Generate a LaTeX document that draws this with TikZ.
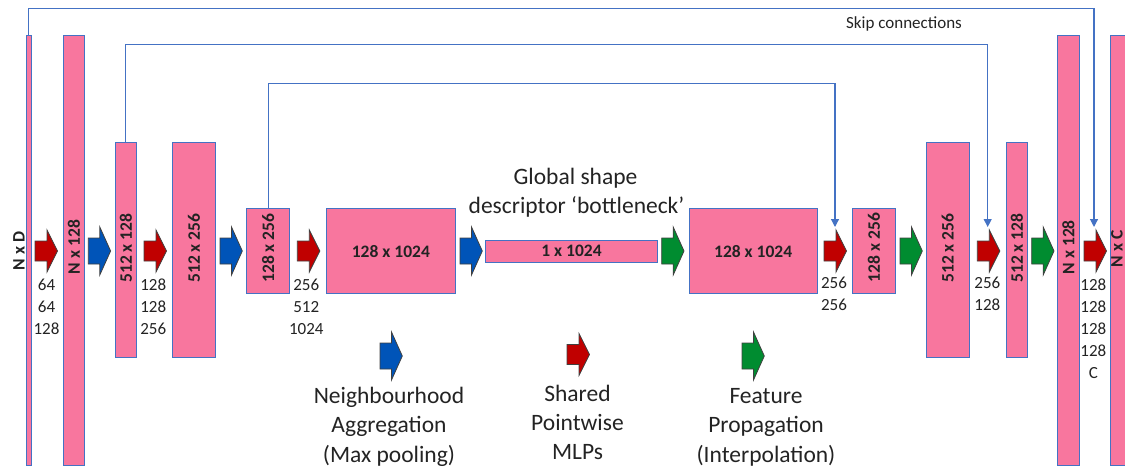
\documentclass[tikz,border=0pt]{standalone}
\usepackage{fontspec}
\setmainfont{Carlito}
\usetikzlibrary{arrows.meta}
\definecolor{pinkbar}{RGB}{248,118,158}
\definecolor{barline}{RGB}{68,114,196}
\definecolor{skipblue}{RGB}{68,114,196}
\definecolor{cRed}{RGB}{192,0,0}
\definecolor{cBlue}{RGB}{0,84,184}
\definecolor{cGreen}{RGB}{0,140,48}
\definecolor{txt}{RGB}{35,35,35}
\tikzset{
  bar/.style={draw=barline, fill=pinkbar, line width=1pt, inner sep=0, outer sep=0, anchor=north west},
  barlbl/.style={font=\fontsize{17.5}{20}\selectfont\bfseries, text=txt, inner sep=0},
  num/.style={font=\fontsize{17}{20}\selectfont, text=txt, inner sep=0, anchor=base},
  big/.style={font=\fontsize{23.5}{29}\selectfont, text=txt, inner sep=0, anchor=base},
  skip/.style={draw=skipblue, line width=1.2pt},
  skiptip/.style={skip, -{Triangle[width=8pt,length=8pt]}},
  arrline/.style={draw=black!75, line width=0.8pt, line join=miter},
}
% name, left, top, right, bottom
\newcommand\pbar[5]{\node[bar, minimum width={#4-#2}, minimum height={#5-#3}] (#1) at (#2,#3) {};}
% name, left x, centre y, colour, shaft half, head half, head offset, length
\newcommand\blockarr[8]{%
  \coordinate (#1) at (#2+#8/2,#3);
  \draw[arrline, fill=#4] (#2,#3-#5) -- (#2+#7,#3-#5) -- (#2+#7,#3-#6) -- (#2+#8,#3)
     -- (#2+#7,#3+#6) -- (#2+#7,#3+#5) -- (#2,#3+#5) -- cycle;}
\newcommand\redarrow[3]{\blockarr{#1}{#2}{#3}{cRed}{10}{21}{12}{22.5}}
\newcommand\bluearrow[3]{\blockarr{#1}{#2}{#3}{cBlue}{13}{24}{11.5}{22.3}}
\newcommand\greenarrow[3]{\blockarr{#1}{#2}{#3}{cGreen}{13}{24}{11.5}{22.3}}
% name, x, first baseline, list
\newcommand\numcol[4]{\foreach \v [count=\i] in {#4} {\node[num] (#1-\i) at (#2,#3+22*\i-22) {\v};}}
\begin{document}
\begin{tikzpicture}[x=1pt,y=-1pt]
\useasboundingbox (0,0) rectangle (1125,468);
\clip (0,0) rectangle (1125,468);
% bars
\pbar{b1}{26.5}{36}{31}{465}
\pbar{b2}{63.3}{36}{84.3}{465}
\pbar{b3}{115}{143}{136.7}{357}
\pbar{b4}{172.7}{143}{215}{357}
\pbar{b5}{246.7}{208.7}{289.7}{293.3}
\pbar{b6}{326}{208.7}{455.7}{293.3}
\pbar{b7}{485.7}{240.7}{657.3}{262}
\pbar{b8}{689}{208.7}{817.3}{293.3}
\pbar{b9}{852.3}{208.7}{895.7}{293.3}
\pbar{b10}{926}{143}{969.3}{357}
\pbar{b11}{1006.7}{143}{1027.3}{357}
\pbar{b12}{1057.3}{36}{1079.3}{465}
\pbar{b13}{1110.7}{36}{1140}{465}
% bar labels
\node[barlbl, rotate=90] (l1) at (19,251) {N x D};
\node[barlbl, rotate=90] (l2) at (73.8,247) {N x 128};
\node[barlbl, rotate=90] (l3) at (125.85,248) {512 x 128};
\node[barlbl, rotate=90] (l4) at (193.85,248) {512 x 256};
\node[barlbl, rotate=90] (l5) at (268.2,248) {128 x 256};
\node[barlbl] (l6) at (390.85,251.2) {128 x 1024};
\node[barlbl] (l7) at (571.5,251.2) {1 x 1024};
\node[barlbl] (l8) at (753.15,251.2) {128 x 1024};
\node[barlbl, rotate=90] (l9) at (874,247.5) {128 x 256};
\node[barlbl, rotate=90] (l10) at (947.65,248) {512 x 256};
\node[barlbl, rotate=90] (l11) at (1017,248) {512 x 128};
\node[barlbl, rotate=90] (l12) at (1068.3,247.3) {N x 128};
\node[barlbl, rotate=90] (l13) at (1117,249) {N x C};
% flow arrows
\redarrow{a1}{35}{251}
\bluearrow{a2}{88.3}{251}
\redarrow{a3}{144}{251}
\bluearrow{a4}{220}{251}
\redarrow{a5}{297.3}{251}
\bluearrow{a6}{460}{251}
\greenarrow{a7}{661.7}{251}
\redarrow{a8}{824}{251}
\greenarrow{a9}{900}{251}
\redarrow{a10}{977.3}{251}
\greenarrow{a11}{1031.7}{251}
\redarrow{a12}{1084}{251}
% number columns
\numcol{n1}{46.5}{290.4}{64,64,128}
\numcol{n3}{153.3}{290.4}{128,128,256}
\numcol{n5}{306.3}{290.4}{256,512,1024}
\numcol{n8}{834}{288.4}{256,256}
\numcol{n10}{987.3}{288.4}{256,128}
\numcol{n12}{1093.3}{290.4}{128,128,128,128,C}
% skip connections
\coordinate (k1) at (1094,8.7);
\coordinate (k2) at (987.7,44.3);
\coordinate (k3) at (835,83.3);
\coordinate (t12) at (1094,227);
\coordinate (t10) at (987.7,227);
\coordinate (t8) at (835,227);
\draw[skiptip] (b1.north) |- (k1) -- (t12);
\draw[skiptip] (b3.north) |- (k2) -- (t10);
\draw[skiptip] (b5.north) |- (k3) -- (t8);
\node[num] (skiplbl) at (904,29) {Skip connections};
% title
\node[big] (g1) at (575.5,184.3) {Global shape};
\node[big] (g2) at (576.5,213.3) {descriptor ‘bottleneck’};
% legend
\bluearrow{la}{380}{356}
\redarrow{lb}{567}{354.5}
\greenarrow{lc}{742}{356}
\node[big] (la1) at (389,403.3) {Neighbourhood};
\node[big] (la2) at (389,432.8) {Aggregation};
\node[big] (la3) at (389,462) {(Max pooling)};
\node[big] (lb1) at (577.5,401.7) {Shared};
\node[big] (lb2) at (577.5,430.7) {Pointwise};
\node[big] (lb3) at (577.5,459.5) {MLPs};
\node[big] (lc1) at (766,403.3) {Feature};
\node[big] (lc2) at (766,432.8) {Propagation};
\node[big] (lc3) at (766,462) {(Interpolation)};
\end{tikzpicture}
\end{document}
